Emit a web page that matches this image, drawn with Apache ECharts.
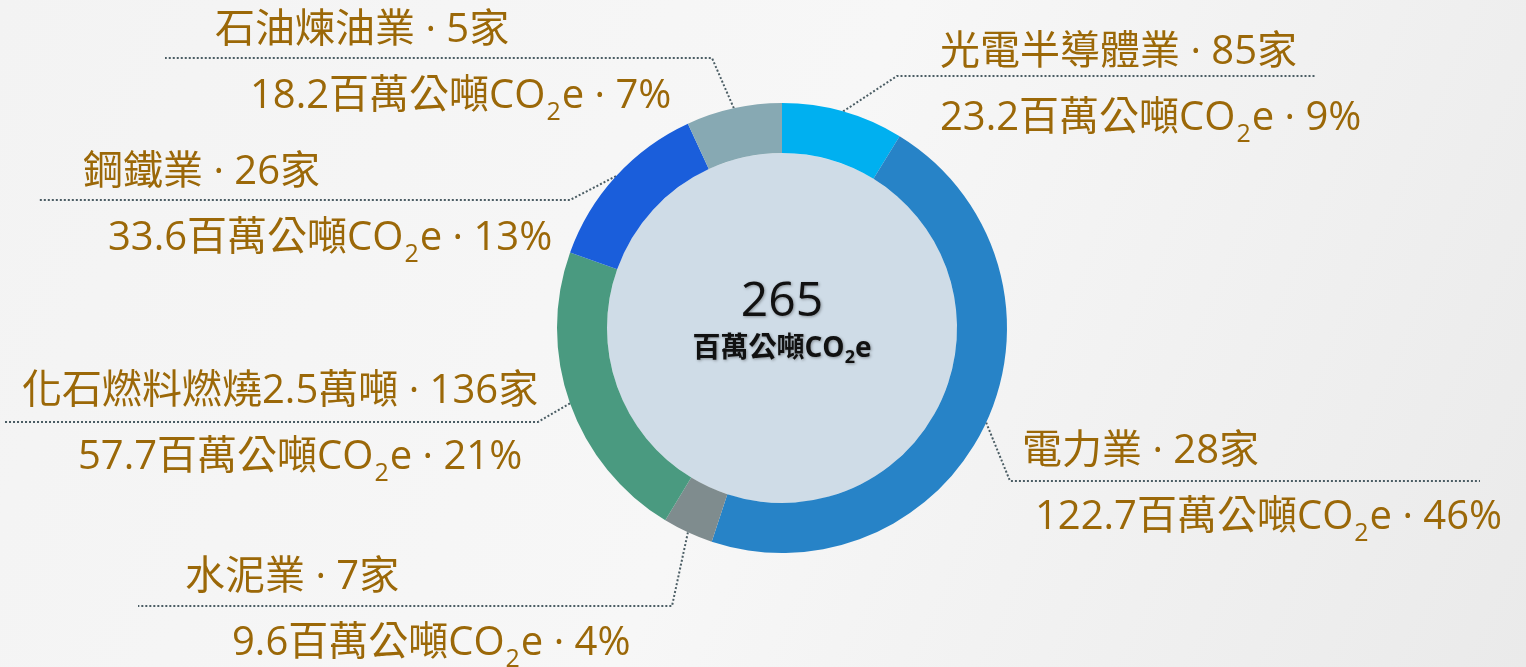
<!DOCTYPE html>
<html>
<head>
<meta charset="utf-8">
<script src="https://cdn.jsdelivr.net/npm/echarts@6/dist/echarts.min.js"></script>
<style>
  html, body { margin: 0; padding: 0; }
  #chart { width: 1526px; height: 667px; }
</style>
</head>
<body>
<div id="chart"></div>
<script>
// values, clockwise from 12 o'clock
const sectors = ['光電半導體業', '電力業', '水泥業', '化石燃料燃燒2.5萬噸', '鋼鐵業', '石油煉油業'];
const emissions = [23.2, 122.7, 9.6, 57.7, 33.6, 18.2];   // 百萬公噸CO2e
const firms = [85, 28, 7, 136, 26, 5];
const shares = [9, 46, 4, 21, 13, 7];                       // % as printed
const colors = ['#00B0F0', '#2783C7', '#7F8C8E', '#4A9A80', '#1A5EDB', '#87A9B3'];

// where each two-line label sits: text left x, label middle y,
// leader elbow x, leader y, far end of dotted rule, indent of 2nd line
const labelSpots = [
  { x: 940, y: 86,  elbow: 897, line: 76,  far: 1315, indent: 0 },
  { x: 1022, y: 485, elbow: 1010, line: 481, far: 1480, indent: 13 },
  { x: 185, y: 611, elbow: 672, line: 606, far: 138, indent: 47 },
  { x: 22, y: 425, elbow: 538, line: 422, far: 5, indent: 56 },
  { x: 83, y: 206, elbow: 570, line: 200, far: 38, indent: 25 },
  { x: 215, y: 64, elbow: 712, line: 58, far: 165, indent: 35 }
];

const FONT = "'Open Sans', 'Noto Sans CJK TC', sans-serif";
const GOLD = '#9B6808';

let total = Math.round(emissions.reduce((a, b) => a + b, 0));

let rich = {
  n: { fontFamily: FONT, fontSize: 40, lineHeight: 66, color: GOLD },
  c: { fontFamily: FONT, fontSize: 40, lineHeight: 66, color: GOLD },
  // subscript: small text pushed down a little
  s: { fontFamily: FONT, fontSize: 25, color: GOLD, verticalAlign: 'bottom', padding: [0, 1, 5, 1] }
};
labelSpots.forEach((s, i) => {
  rich['v' + i] = { fontFamily: FONT, fontSize: 40, lineHeight: 66, color: GOLD, padding: [0, 0, 0, s.indent] };
});

let centerStyle = {
  textShadowColor: 'rgba(0,0,0,0.35)', textShadowBlur: 3,
  textShadowOffsetX: 1, textShadowOffsetY: 1, color: '#111'
};

let option = {
  backgroundColor: {
    type: 'linear', x: 0, y: 0, x2: 1, y2: 1,
    colorStops: [
      { offset: 0, color: '#F3F3F3' },
      { offset: 0.5, color: '#F7F7F7' },
      { offset: 1, color: '#EAEAEA' }
    ]
  },
  animation: false,
  series: [
    {
      // light disc in the hole with the total
      type: 'pie',
      silent: true,
      center: [782, 328],
      radius: [0, 175],
      data: [{ value: 1, name: 'total' }],
      itemStyle: { color: '#CFDCE7' },
      labelLine: { show: false },
      label: {
        position: 'center',
        padding: [0, 0, 12, 0],
        formatter: () => `{t|${total}}\n{u|百萬公噸}{uc|CO}{us|2}{uc|e}`,
        rich: {
          t: Object.assign({ fontFamily: FONT, fontSize: 48, fontWeight: 500, lineHeight: 54 }, centerStyle),
          u: Object.assign({ fontFamily: FONT, fontSize: 28, fontWeight: 'bold', lineHeight: 40 }, centerStyle),
          uc: Object.assign({ fontFamily: FONT, fontSize: 28, fontWeight: 'bold', lineHeight: 40 }, centerStyle),
          us: Object.assign({ fontFamily: FONT, fontSize: 18, fontWeight: 'bold', verticalAlign: 'bottom', padding: [0, 0, 2, 0] }, centerStyle)
        }
      }
    },
    {
      type: 'pie',
      silent: true,
      center: [782, 328],
      radius: [175, 225],
      startAngle: 90,
      clockwise: true,
      avoidLabelOverlap: false,
      data: sectors.map((name, i) => ({ name: name, value: emissions[i], itemStyle: { color: colors[i] } })),
      label: {
        show: true,
        position: 'outside',
        formatter: p => {
          let i = p.dataIndex;
          return `{n|${p.name} · ${firms[i]}家}\n{v${i}|${p.value}百萬公噸}{c|CO}{s|2}{c|e · ${shares[i]}%}`;
        },
        rich: rich
      },
      labelLine: {
        show: true,
        length: 20,
        length2: 20,
        lineStyle: { color: '#4B5D64', width: 2, type: 'dotted' }
      },
      labelLayout: function (p) {
        let s = labelSpots[p.dataIndex];
        let start = p.labelLinePoints ? p.labelLinePoints[0] : [s.elbow, s.line];
        return {
          x: s.x,
          y: s.y,
          align: 'left',
          verticalAlign: 'middle',
          labelLinePoints: [start, [s.elbow, s.line], [s.far, s.line]]
        };
      }
    }
  ]
};

let chart = echarts.init(document.getElementById('chart'));
chart.setOption(option);
</script>
</body>
</html>
